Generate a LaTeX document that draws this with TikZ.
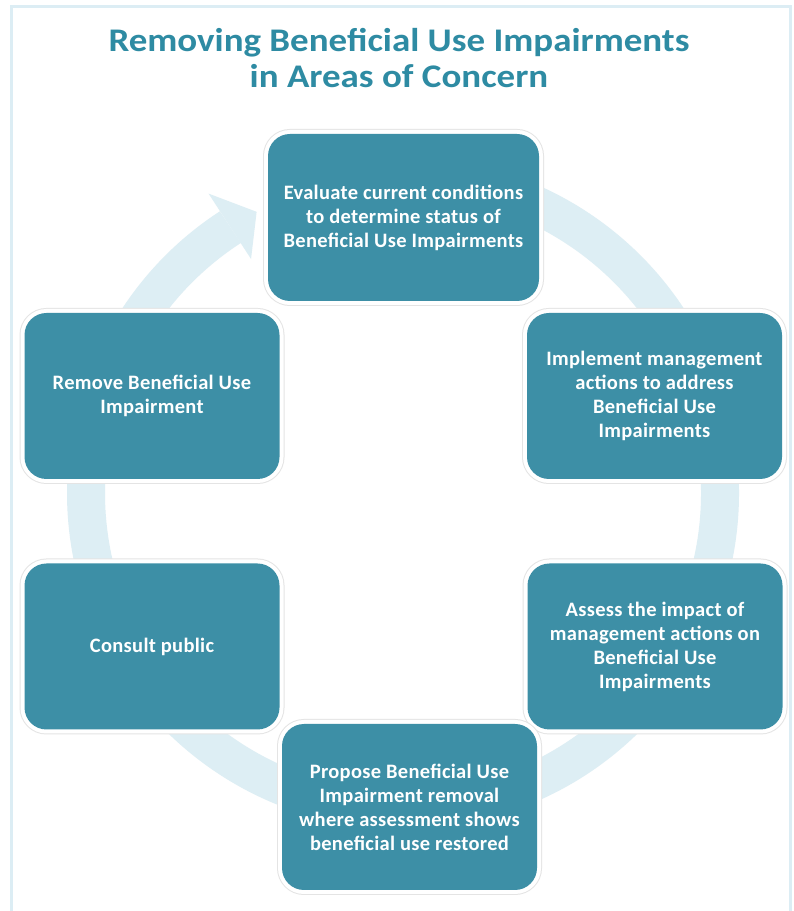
\documentclass[tikz,border=0pt]{standalone}
\usepackage{fontspec}
\setmainfont{Carlito}
\newfontfamily\titlefont[FakeStretch=1.12]{Carlito}
\newfontfamily\boxfont[LetterSpace=1.5]{Carlito}
\usetikzlibrary{calc}
\definecolor{boxcol}{HTML}{3D8FA6}
\definecolor{titlecol}{HTML}{2E8BA3}
\definecolor{ringcol}{HTML}{DDEEF4}
\definecolor{framecol}{HTML}{DCEDF4}
\definecolor{halocol}{HTML}{E4E4E4}
\tikzset{
  stepbox/.style={rounded corners=22pt, fill=boxcol, text=white, align=center,
    font=\boxfont\bfseries\fontsize{20.5}{24}\selectfont, inner sep=0pt,
    minimum width=255pt, minimum height=166pt,
    preaction={draw=halocol, line width=10pt},
    preaction={draw=white, line width=8pt}},
  titletext/.style={text=titlecol, font=\titlefont\bfseries\fontsize{33}{36}\selectfont, anchor=base, inner sep=0pt}
}
\begin{document}
\begin{tikzpicture}[x=1pt,y=1pt]
\useasboundingbox (0,0) rectangle (794,911);
\fill[white] (0,0) rectangle (794,911);
% frame
\draw[framecol, line width=3pt] (11,-5) -- (11,904) -- (790,904) -- (790,-5);
% title
\node[titletext] (t1) at (399,859) {Removing Beneficial Use Impairments};
\node[titletext] (t2) at (399,823) {in Areas of Concern};
% ring
\coordinate (c) at (403,418);
\draw[ringcol, line width=38pt] ($(c)+(95:317)$) arc[start angle=95, end angle=-237, radius=317];
\fill[ringcol] ($(c)+(123:279)$) -- ($(c)+(123:357)$) -- ($(c)+(117.5:317)$) -- cycle;
% boxes
\node[stepbox, minimum width=271pt, minimum height=167pt] (eval) at (403.5,693.5) {Evaluate current conditions\\to determine status of\\Beneficial Use Impairments};
\node[stepbox] (impl) at (654.5,515) {Implement management\\actions to address\\Beneficial Use\\Impairments};
\node[stepbox] (assess) at (655,264.5) {Assess the impact of\\management actions on\\Beneficial Use\\Impairments};
\node[stepbox] (prop) at (409.5,104) {Propose Beneficial Use\\Impairment removal\\where assessment shows\\beneficial use restored};
\node[stepbox] (cons) at (152,264.5) {Consult public};
\node[stepbox] (rem) at (152,515) {Remove Beneficial Use\\Impairment};
\end{tikzpicture}
\end{document}
